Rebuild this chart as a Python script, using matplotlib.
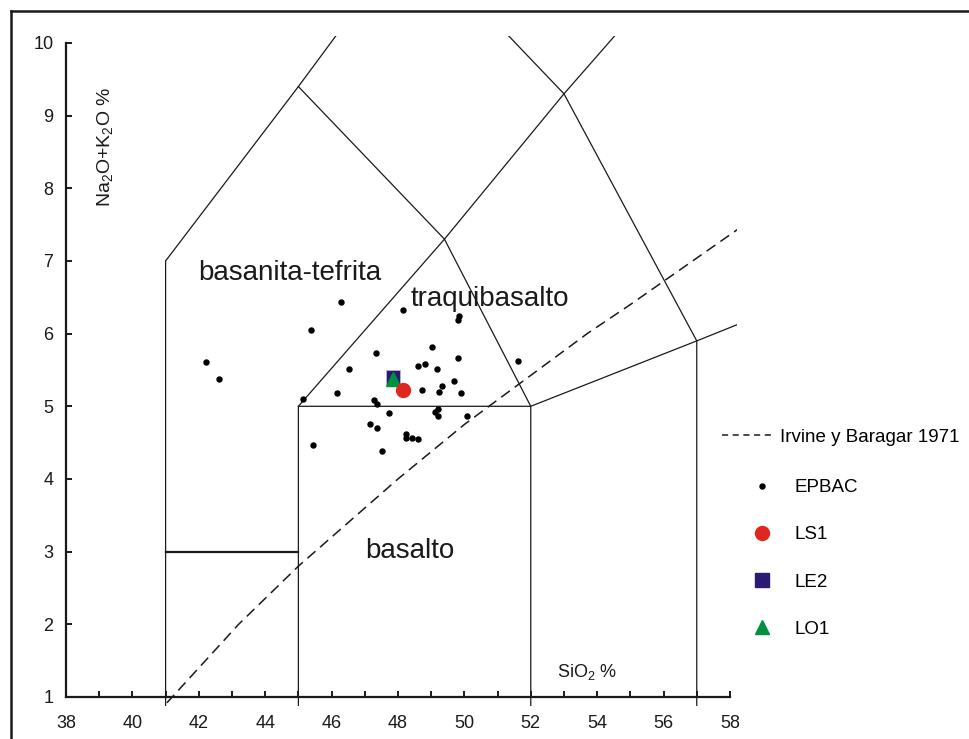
import matplotlib
matplotlib.use("Agg")
import matplotlib.pyplot as plt
from matplotlib.lines import Line2D
import numpy as np

plt.rcParams['font.family'] = ['Liberation Sans', 'DejaVu Sans']
plt.rcParams['mathtext.fontset'] = 'custom'
plt.rcParams['mathtext.rm'] = 'Liberation Sans'
plt.rcParams['mathtext.it'] = 'Liberation Sans'
plt.rcParams['mathtext.default'] = 'regular'

# TAS field boundaries (Le Bas et al. 1986), SiO2 / Na2O+K2O
bound_a = [(41, 0), (41, 7), (45, 9.4), (48.4, 11.5)]
bound_b = [(45, 9.4), (49.4, 7.3), (53, 9.3), (57.6, 11.7)]
bound_c = [(45, 0), (45, 5), (49.4, 7.3), (52, 5), (52, 0)]
bound_d = [(45, 5), (52, 5), (57, 5.9), (63, 7)]
bound_e = [(57, 0), (57, 5.9), (53, 9.3), (48.4, 11.5)]
bound_picro = [(41, 3), (45, 3)]

# alkaline / subalkaline divide
irvine_x = [40, 43.2, 45, 48, 50, 53.7, 55, 60]
irvine_y = [0.4, 2.0, 2.8, 4.0, 4.75, 6.0, 6.4, 8.0]

# EPBAC samples
epbac_x = [46.29, 48.14, 49.85, 49.82, 45.37, 42.22, 42.60, 47.34, 49.02, 49.82,
           48.59, 48.80, 51.62, 46.53, 49.18, 49.69, 49.32, 48.72, 49.23, 49.90,
           46.16, 45.15, 47.29, 47.38, 49.21, 49.12, 49.20, 50.07, 47.72, 47.16,
           47.38, 48.25, 48.25, 48.42, 48.59, 45.45, 47.51]
epbac_y = [6.43, 6.32, 6.24, 6.19, 6.05, 5.61, 5.38, 5.74, 5.82, 5.66,
           5.56, 5.58, 5.62, 5.51, 5.51, 5.35, 5.28, 5.22, 5.20, 5.18,
           5.18, 5.10, 5.09, 5.03, 4.96, 4.92, 4.87, 4.87, 4.91, 4.76,
           4.70, 4.62, 4.56, 4.56, 4.55, 4.47, 4.39]

ls1 = (48.14, 5.22)
le2 = (47.84, 5.41)
lo1 = (47.86, 5.37)

field_names = ['basanita-tefrita', 'traquibasalto', 'basalto']
field_pos = [(44.75, 6.83), (50.77, 6.48), (48.36, 3.01)]

fig = plt.figure(figsize=(9.7, 7.39), dpi=100)
ax = fig.add_axes([66 / 970, (739 - 705.7) / 739, 670.6 / 970, (705.7 - 36.4) / 739])
ax.set_xlim(38, 58.2)
ax.set_ylim(0.88, 10.09)

for b in [bound_a, bound_b, bound_c, bound_d, bound_e]:
    b = np.array(b)
    ax.plot(b[:, 0], b[:, 1], color='#1a1a1a', lw=0.9)
b = np.array(bound_picro)
ax.plot(b[:, 0], b[:, 1], color='#1a1a1a', lw=1.6)

ax.plot(irvine_x, irvine_y, color='#1a1a1a', lw=1.1, ls=(0, (7, 4)))

ax.plot(epbac_x, epbac_y, 'o', color='black', ms=3.6, ls='none')
ax.plot(*le2, 's', color='#2b1a74', mec='#b8b8c8', mew=0.6, ms=9.5)
ax.plot(*lo1, '^', color='#00913f', ms=10)
ax.plot(*ls1, 'o', color='#e0261e', ms=10)

for name, (x, y) in zip(field_names, field_pos):
    ax.text(x, y, name, fontsize=20, ha='center', va='center', color='#1a1a1a')

ax.text(53.69, 1.34, 'SiO$_2$ %', fontsize=13, ha='center', va='center', color='#1a1a1a')
ax.text(39.17, 8.57, 'Na$_2$O+K$_2$O %', fontsize=14, ha='center', va='center',
        rotation=90, color='#1a1a1a')

for s in ['top', 'right']:
    ax.spines[s].set_visible(False)
ax.spines['bottom'].set_position(('data', 1))
ax.spines['bottom'].set_bounds(38, 58)
ax.spines['left'].set_bounds(1, 10)
for s in ['bottom', 'left']:
    ax.spines[s].set_linewidth(1.6)
    ax.spines[s].set_color('#1a1a1a')

ax.set_xticks(np.arange(38, 59, 2))
ax.set_xticks(np.arange(39, 58, 2), minor=True)
ax.set_yticks(np.arange(1, 11, 1))
ax.tick_params(axis='both', which='both', direction='in', length=4.5, width=1.4,
               color='#1a1a1a', labelsize=13, labelcolor='#1a1a1a')
ax.tick_params(axis='x', pad=13)
ax.tick_params(axis='y', pad=9)

# legends to the right of the diagram
h1 = [Line2D([], [], color='#1a1a1a', lw=1.1, ls=(0, (4, 3)))]
leg1 = fig.legend(h1, ['Irvine y Baragar 1971'], loc='center left',
                  bbox_to_anchor=(722 / 970, 1 - 437 / 739), frameon=False,
                  fontsize=13.5, handlelength=2.83, handletextpad=0.27, borderpad=0,
                  borderaxespad=0)
h2 = [Line2D([], [], ls='none', marker='o', color='black', ms=3.6),
      Line2D([], [], ls='none', marker='o', color='#e0261e', ms=10),
      Line2D([], [], ls='none', marker='s', color='#2b1a74', ms=9.5),
      Line2D([], [], ls='none', marker='^', color='#00913f', ms=10)]
leg2 = fig.legend(h2, ['EPBAC', 'LS1', 'LE2', 'LO1'], loc='center left',
                  bbox_to_anchor=(748 / 970, 1 - 558.5 / 739), frameon=False,
                  fontsize=13.5, handlelength=1.5, handletextpad=1.0, borderpad=0,
                  borderaxespad=0, labelspacing=1.61, numpoints=1)

# outer frame (top and left edges only)
fig.add_artist(Line2D([11.5 / 970, 1], [1 - 10.7 / 739, 1 - 10.7 / 739], color='#1a1a1a',
                      lw=1.8, transform=fig.transFigure))
fig.add_artist(Line2D([11.5 / 970, 11.5 / 970], [0, 1 - 10.7 / 739], color='#1a1a1a',
                      lw=1.8, transform=fig.transFigure))

fig.savefig('out.png', dpi=100)
